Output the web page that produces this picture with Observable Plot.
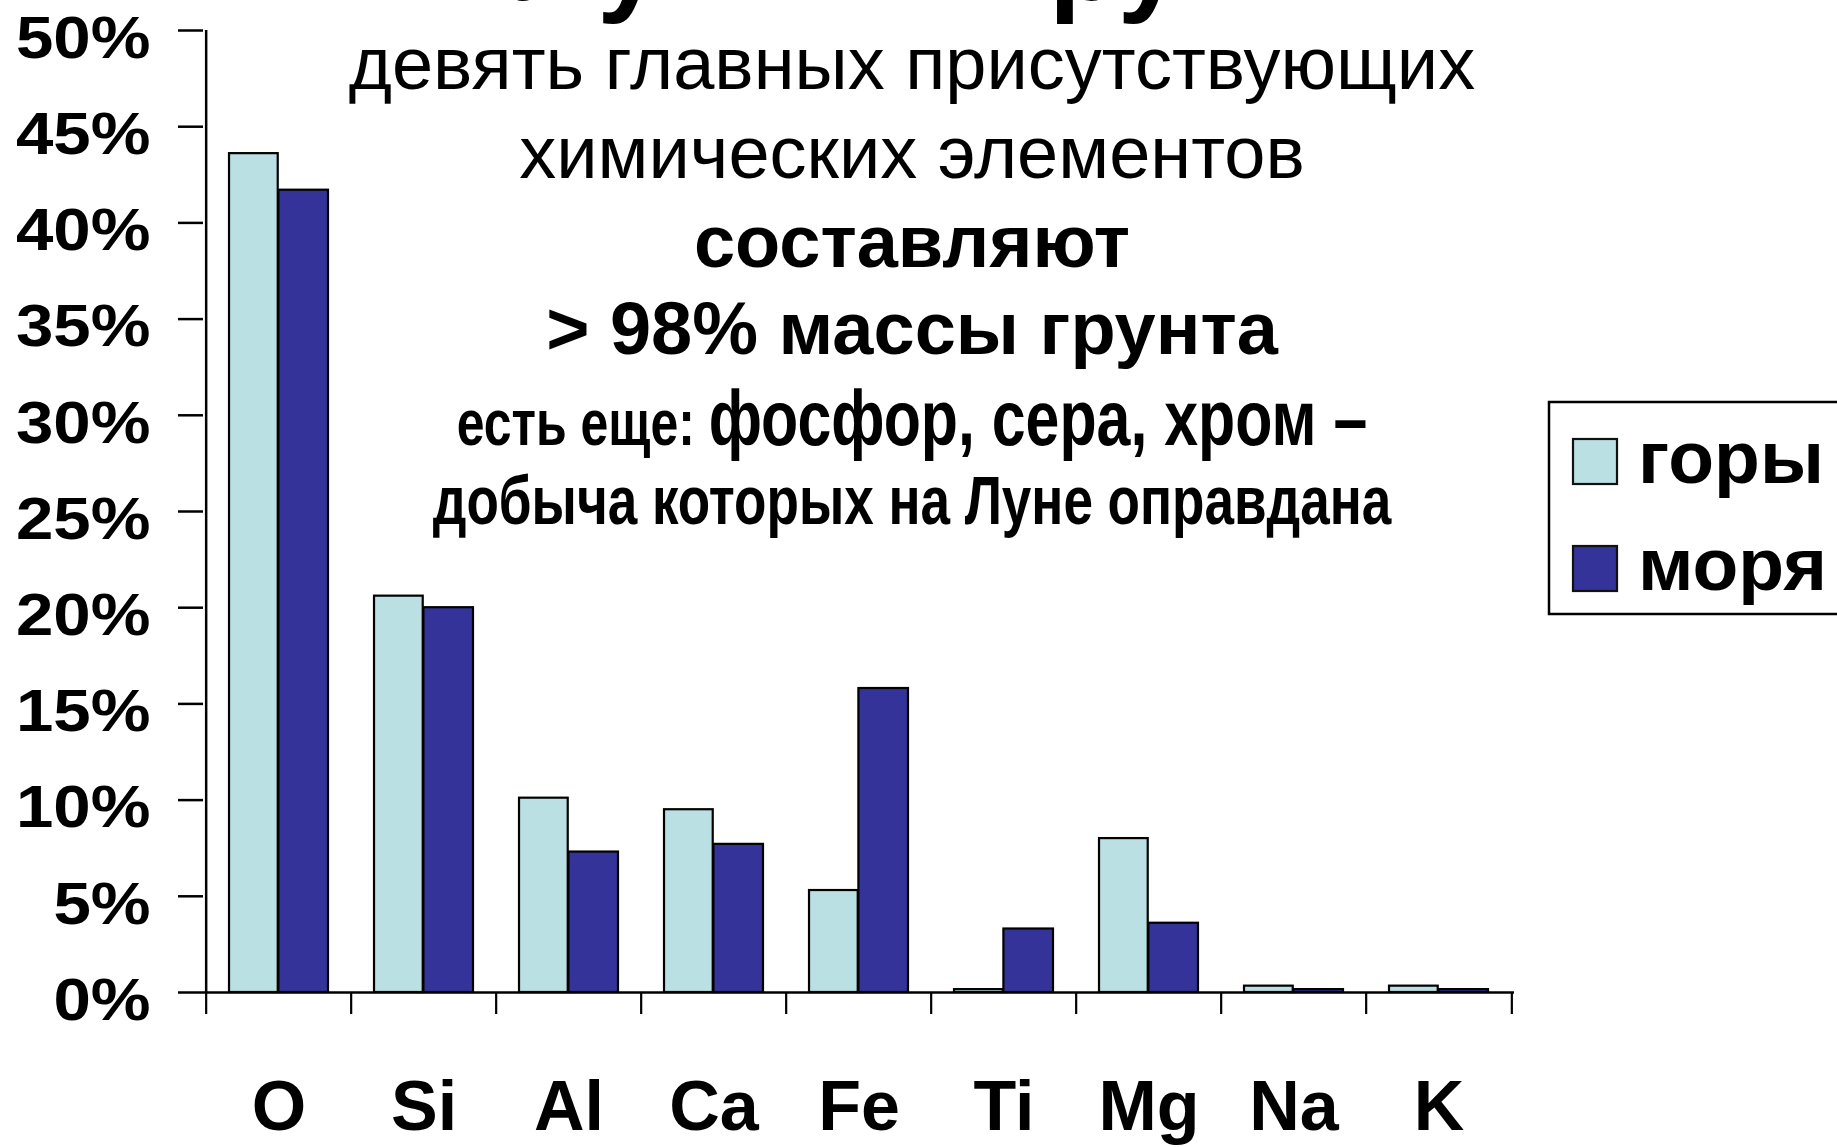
<!DOCTYPE html>
<html><head><meta charset="utf-8">
<script src="https://cdn.jsdelivr.net/npm/d3@7"></script>
<script src="https://cdn.jsdelivr.net/npm/@observablehq/plot@0.6"></script>
<style>
html,body{margin:0;padding:0;background:#fff;overflow:hidden;}
#wrap{position:relative;width:1837px;height:1147px;}
#chart{position:absolute;left:0;top:0;}
#overlay{position:absolute;left:0;top:0;pointer-events:none;}
</style></head><body>
<div id="wrap"><div id="chart"></div><svg id="overlay" width="1837" height="1147"></svg></div>
<script>
// ---- data ----
const elements = ["O", "Si", "Al", "Ca", "Fe", "Ti", "Mg", "Na", "K"];
const highlands = [43.6, 20.6, 10.1, 9.5, 5.3, 0.15, 8.0, 0.33, 0.33];   // горы
const maria     = [41.7, 20.0, 7.3, 7.7, 15.8, 3.3, 3.6, 0.15, 0.15];    // моря
const seriesNames = ["горы", "моря"];
const seriesColors = ["#bbe0e3", "#333399"];
const yTicks = [0, 5, 10, 15, 20, 25, 30, 35, 40, 45, 50];
const titleTop = "Лунный грунт";
const subtitleLines = ["девять главных присутствующих", "химических элементов"];
const boldLines = ["составляют", "> 98% массы грунта"];
const noteSmall = "есть еще: ";
const noteBig = "фосфор, сера, хром –";
const noteLine2 = "добыча которых на Луне оправдана";

const rows = [];
elements.forEach((e, i) => {
  rows.push({element: e, series: seriesNames[0], value: highlands[i]});
  rows.push({element: e, series: seriesNames[1], value: maria[i]});
});

// ---- layout ----
const W = 1837, H = 1147, mL = 203, mR = 323, mT = 30, mB = 155;
const step = (W - mL - mR) / elements.length;
const font = "'Liberation Sans', Arial, Helvetica, sans-serif";

const chart = Plot.plot({
  width: W, height: H,
  marginLeft: mL, marginRight: mR, marginTop: mT, marginBottom: mB,
  style: {fontFamily: font, background: "white", color: "black", overflow: "visible"},
  x: {domain: elements, padding: 0, label: null},
  y: {domain: [0, 50], label: null},
  color: {domain: seriesNames, range: seriesColors},
  marks: [
    Plot.barY(rows.filter(d => d.series === seriesNames[0]), {
      x: "element", y: "value", fill: "series", stroke: "black", strokeWidth: 2.2,
      insetLeft: step * 0.158, insetRight: step * 0.503
    }),
    Plot.barY(rows.filter(d => d.series === seriesNames[1]), {
      x: "element", y: "value", fill: "series", stroke: "black", strokeWidth: 2.2,
      insetLeft: step * 0.497, insetRight: step * 0.158
    }),
    Plot.ruleY([0], {stroke: "black", strokeWidth: 2.5}),
    Plot.ruleX(elements.slice(0, 1), {dx: -step / 2, stroke: "black", strokeWidth: 2.5}),
    // y ticks
    Plot.axisY({ticks: yTicks, tickSize: 25, tickFormat: () => "", strokeWidth: 2.5, label: null}),
    // y labels
    Plot.axisY({ticks: yTicks, tickSize: 0, tickPadding: 53, tickFormat: d => d + "%",
      fontSize: 60, fontWeight: "bold", dy: 8, label: null}),
    // category boundary ticks
    Plot.axisX({ticks: elements, tickSize: 22, tickFormat: () => "", dx: -step / 2, strokeWidth: 2.2, label: null}),
    Plot.axisX({ticks: elements.slice(-1), tickSize: 22, tickFormat: () => "", dx: step / 2, strokeWidth: 2.2, label: null}),
    // category labels
    Plot.axisX({ticks: elements, tickSize: 0, tickPadding: 88, fontSize: 70, fontWeight: "bold", label: null})
  ]
});
document.getElementById("chart").appendChild(chart);

// widen y tick labels (the source labels are horizontally stretched)
d3.select(chart).selectAll('g[aria-label="y-axis tick label"] text').each(function() {
  const len = this.getComputedTextLength();
  if (len > 0) {
    this.setAttribute("textLength", len * 1.12);
    this.setAttribute("lengthAdjust", "spacingAndGlyphs");
  }
});

// ---- overlay text & legend ----
const ov = d3.select("#overlay");
const cx = 912;
ov.append("text").attr("x", cx).attr("y", 0).attr("text-anchor", "middle")
  .style("font", `bold 115px ${font}`).text(titleTop);
const lines = [
  {t: subtitleLines[0], y: 89, w: "normal", s: 74},
  {t: subtitleLines[1], y: 178, w: "normal", s: 74},
  {t: boldLines[0], y: 267, w: "bold", s: 74},
  {t: boldLines[1], y: 354, w: "bold", s: 74}
];
lines.forEach(l => ov.append("text").attr("x", cx).attr("y", l.y).attr("text-anchor", "middle")
  .style("font-family", font).style("font-weight", l.w).style("font-size", l.s + "px").text(l.t));
// condensed (narrow) bold note lines
const squeeze = 0.78;
const n1 = ov.append("text").attr("transform", `translate(${cx},445) scale(${squeeze},1)`)
  .attr("text-anchor", "middle").style("font-family", font).style("font-weight", "bold");
n1.append("tspan").style("font-size", "64px").text(noteSmall);
n1.append("tspan").style("font-size", "78px").text(noteBig);
ov.append("text").attr("transform", `translate(${cx},524) scale(${squeeze},1)`)
  .attr("text-anchor", "middle").style("font-family", font).style("font-weight", "bold")
  .style("font-size", "68px").text(noteLine2);

// legend
const lg = ov.append("g");
lg.append("rect").attr("x", 1549).attr("y", 402).attr("width", 400).attr("height", 212)
  .attr("fill", "white").attr("stroke", "black").attr("stroke-width", 2.5);
seriesNames.forEach((s, i) => {
  const y = 439 + i * 107;
  lg.append("rect").attr("x", 1573).attr("y", y).attr("width", 44).attr("height", 45)
    .attr("fill", seriesColors[i]).attr("stroke", "#111").attr("stroke-width", 2.2);
  lg.append("text").attr("x", 1638).attr("y", y + 44).style("font", `bold 75px ${font}`).text(s);
});
</script>
</body></html>
